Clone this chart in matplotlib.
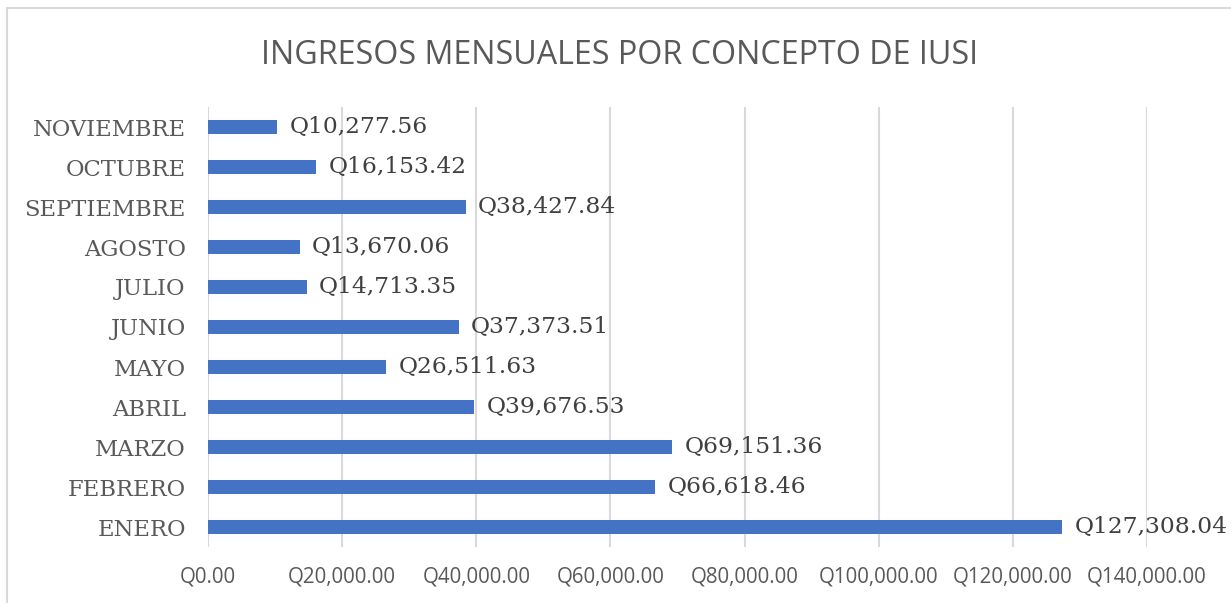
import matplotlib
matplotlib.use("Agg")
import matplotlib.pyplot as plt
from matplotlib.patches import Rectangle
from matplotlib.ticker import FuncFormatter

# data
meses = ["ENERO", "FEBRERO", "MARZO", "ABRIL", "MAYO", "JUNIO",
         "JULIO", "AGOSTO", "SEPTIEMBRE", "OCTUBRE", "NOVIEMBRE"]
ingresos = [127308.04, 66618.46, 69151.36, 39676.53, 26511.63, 37373.51,
            14713.35, 13670.06, 38427.84, 16153.42, 10277.56]
xticks = [0, 20000, 40000, 60000, 80000, 100000, 120000, 140000]

W, H = 1231, 603
fig = plt.figure(figsize=(W / 100, H / 100), dpi=100)

# chart frame (runs off right/bottom edge)
fig.patches.append(Rectangle((7 / W, -0.1), 1.2, 1 - 8 / H + 0.1,
                             transform=fig.transFigure, fill=False,
                             edgecolor="#d9d9d9", linewidth=1.5))

ax = fig.add_axes([208 / W, 1 - 547 / H, (1147 - 208) / W, (547 - 107) / H])
y = range(len(meses))
ax.barh(y, ingresos, height=0.35, color="#4472C4", zorder=3)
ax.set_ylim(-0.5, len(meses) - 0.5)
ax.set_xlim(0, 140000)

ax.set_xticks(xticks)
ax.xaxis.set_major_formatter(FuncFormatter(lambda v, p: "Q{:,.2f}".format(v)))
ax.set_yticks(list(y))
ax.set_yticklabels(meses, family="DejaVu Serif", fontsize=16.3, color="#595959")
for lab in ax.get_xticklabels():
    lab.set_family("Open Sans")
    lab.set_fontsize(14.8)
    lab.set_color("#595959")
ax.tick_params(axis="both", length=0)
ax.tick_params(axis="x", pad=14)
ax.tick_params(axis="y", pad=16)

ax.grid(axis="x", color="#d9d9d9", linewidth=1.5, zorder=0)
for s in ax.spines.values():
    s.set_visible(False)

for i, v in enumerate(ingresos):
    ax.annotate("Q{:,.2f}".format(v), (v, i), xytext=(9, 0),
                textcoords="offset points", va="center", ha="left",
                family="DejaVu Serif", fontsize=16.8, color="#404040", zorder=4)

fig.text(0.5035, 1 - 56 / H, "INGRESOS MENSUALES POR CONCEPTO DE IUSI",
         ha="center", va="center", family="Open Sans", fontsize=23.2,
         color="#595959")

fig.savefig("out.png", dpi=100)
